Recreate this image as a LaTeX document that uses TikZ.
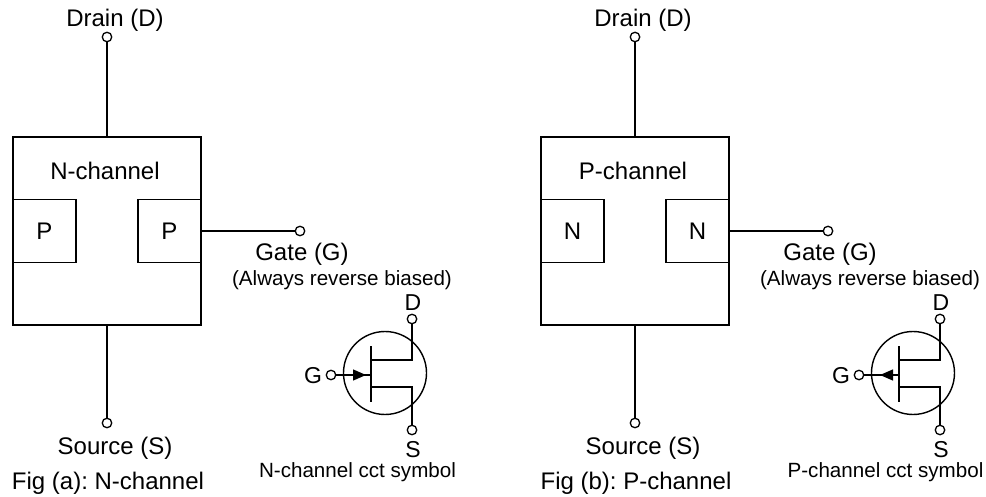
\documentclass[tikz,border=0pt]{standalone}
\usepackage{fontspec}
\setmainfont{Liberation Sans}
\frenchspacing
\usetikzlibrary{arrows.meta}
\tikzset{
  wire/.style={line width=1.5pt,draw=black},
  terminal/.style={circle,draw=black,line width=1.3pt,fill=white,inner sep=0pt,minimum size=9.5pt},
  mainbox/.style={rectangle,draw=black,line width=1.7pt,minimum width=188pt,minimum height=188pt,inner sep=0pt},
  subbox/.style={rectangle,draw=black,line width=1.4pt,minimum width=63pt,minimum height=63pt,inner sep=0pt,font=\fontsize{24}{26}\selectfont},
  lab/.style={inner sep=0pt,font=\fontsize{24}{26}\selectfont},
  smalllab/.style={inner sep=0pt,font=\fontsize{20.6}{23}\selectfont},
  symlab/.style={inner sep=0pt,font=\fontsize{23}{25}\selectfont},
  symcircle/.style={circle,draw=black,line width=1.4pt,inner sep=0pt,minimum size=83pt},
  tri/.style={-{Triangle[length=13pt,width=11pt]}},
}
\newcommand{\fetpanel}[7]{%
 % #1 offset, #2 prefix, #3 channel, #4 region, #5 caption, #6 arrow start x, #7 arrow end x
 \begin{scope}[xshift=#1pt,name prefix=#2-]
  \node[mainbox] (body) at (107,231) {};
  \node[lab] (chan) at (105,171) {#3-channel};
  \node[subbox] (left) at (44.5,231) {#4};
  \node[subbox] (right) at (169.5,231) {#4};
  \node[terminal] (dt) at (107,37) {};
  \node[terminal] (st) at (107,423) {};
  \node[terminal] (gt) at (300,231) {};
  \draw[wire] (dt) -- (body.north);
  \draw[wire] (st) -- (body.south);
  \draw[wire] (right.east) -- (gt);
  \node[lab] (dl) at (115,20) {Drain (D)};
  \node[lab] (sl) at (115,448) {Source (S)};
  \node[lab] (gl) at (302,254) {Gate (G)};
  \node[smalllab] (al) at (342,280) {(Always reverse biased)};
  \node[lab] (cap) at (108,483) {Fig (#5): #3-channel};
  \node[smalllab] (scap) at (357.5,472) {#3-channel cct symbol};
  \node[symcircle] (sc) at (385,373) {};
  \node[terminal] (sd) at (412,319) {};
  \node[terminal] (ss) at (412,430) {};
  \node[terminal] (sg) at (331,375) {};
  \node[symlab] (ld) at (413,303) {D};
  \node[symlab] (ls) at (413,450) {S};
  \node[symlab] (lg) at (313,376) {G};
  \coordinate (bt) at (371,346);
  \coordinate (bb) at (371,402);
  \coordinate (bm) at (371,375);
  \coordinate (ad) at (371,360);
  \coordinate (cd) at (412,360);
  \coordinate (as) at (371,387);
  \coordinate (cs) at (412,387);
  \coordinate (t1) at (#6,375);
  \coordinate (t2) at (#7,375);
  \draw[wire] (bt) -- (bb);
  \draw[wire] (ad) -- (cd) -- (sd);
  \draw[wire] (as) -- (cs) -- (ss);
  \draw[wire] (sg) -- (bm);
  \draw[tri,line width=1.3pt] (t1) -- (t2);
 \end{scope}}
\begin{document}
\begin{tikzpicture}[x=1pt,y=-1pt]
 \useasboundingbox (0,0) rectangle (986,497);
 \fetpanel{0}{a}{N}{P}{a}{345}{366}
 \fetpanel{528}{b}{P}{N}{b}{364}{352}
\end{tikzpicture}
\end{document}
